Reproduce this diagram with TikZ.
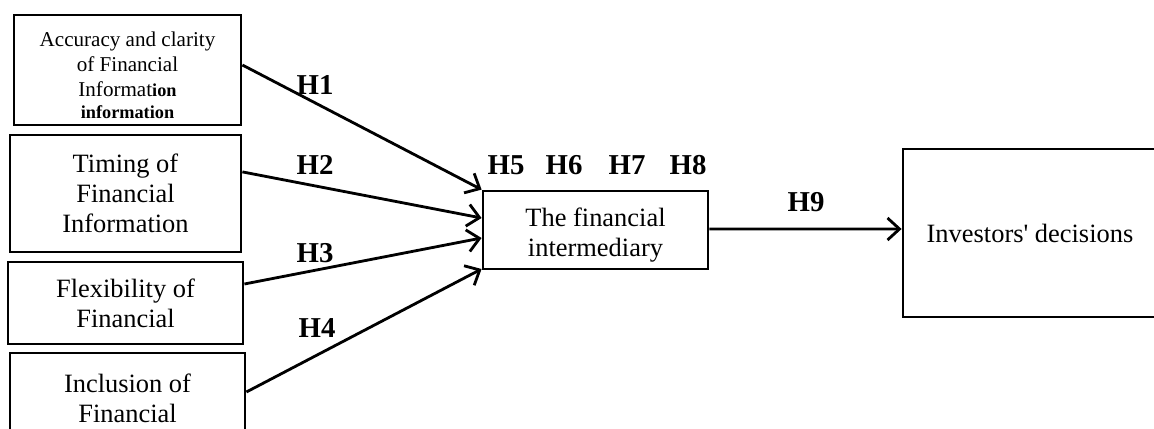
\documentclass[tikz,border=0pt]{standalone}
\usepackage{fontspec}
\setmainfont{Liberation Serif}
\usepackage{tikz}
\usetikzlibrary{arrows.meta,positioning}
\tikzset{
    % Base node style
    basenode/.style={
        draw=black,
        fill=white,
        line width=2pt,
        align=center,
        inner sep=0pt,
        font=\fontsize{18.8}{21.5}\selectfont
    },
    % Input variable boxes
    inputnode/.style={
        basenode,
        minimum width=5.8cm
    },
    % Mediator box
    mediatornode/.style={
        basenode,
        minimum width=5.625cm,
        minimum height=1.95cm
    },
    % Outcome box
    outcomenode/.style={
        basenode,
        minimum width=6.35cm,
        minimum height=4.2cm
    },
    % Text placed inside a box
    boxtext/.style={
        align=center,
        inner sep=0pt,
        font=\fontsize{18.8}{21.5}\selectfont
    },
    % Hypothesis labels
    hlabel/.style={
        font=\fontsize{20.5}{24}\selectfont\bfseries,
        inner sep=0pt
    },
    % Arrow style
    myarrow/.style={
        -{Straight Barb[length=0.3cm,width=0.55cm,line width=2pt]},
        line width=2pt,
        draw=black
    }
}
\begin{document}
\begin{tikzpicture}
                \useasboundingbox (0,0) rectangle (28.85,10.7);

                % Inputs
                \node[inputnode, minimum width=5.675cm, minimum height=2.75cm] (acc) at (3.1875,8.95) {};
                \node[boxtext, font=\fontsize{15}{17.8}\selectfont] (acctext) at ([yshift=-0.13cm]acc.center)
                    {Accuracy and clarity\\of Financial\\Informat{\bfseries\fontsize{13}{15}\selectfont ion}\\[-2pt]{\bfseries\fontsize{13}{15}\selectfont information}};
                \node[inputnode, minimum width=5.775cm, minimum height=2.925cm] (timing) at (3.1375,5.8625)
                    {Timing of\\Financial\\Information};
                \node[inputnode, minimum width=5.875cm, minimum height=2.05cm] (flex) at (3.1375,3.125)
                    {Flexibility of\\Financial};
                \node[inputnode, minimum width=5.875cm, minimum height=2.25cm] (incl) at (3.1875,0.75)
                    {Inclusion of\\Financial};

                % Mediator and outcome
                \node[mediatornode] (mid) at (14.8875,4.95) {};
                \node[boxtext] (midtext) at ([yshift=-0.13cm]mid.center) {The financial\\intermediary};
                \node[outcomenode] (inv) at (25.75,4.875) {Investors\textquotesingle{} decisions};

                % Arrows
                \draw[myarrow] ([yshift=0.125cm]acc.east) -- (mid.north west);
                \draw[myarrow] ([yshift=0.54cm]timing.east) -- ([yshift=0.3cm]mid.west);
                \draw[myarrow] ([yshift=0.475cm]flex.east) -- ([yshift=-0.2cm]mid.west);
                \draw[myarrow] ([yshift=0.15cm]incl.east) -- ([yshift=-0.975cm]mid.west);
                \draw[myarrow] ([yshift=0.025cm]mid.east) -- ([yshift=0.1cm]inv.west);

                % Hypotheses
                \node[hlabel] (h1) at (7.875,8.575) {H1};
                \node[hlabel] (h2) at (7.875,6.575) {H2};
                \node[hlabel] (h3) at (7.875,4.375) {H3};
                \node[hlabel] (h4) at (7.925,2.5) {H4};
                \node[hlabel] (h5) at (12.65,6.575) {H5};
                \node[hlabel] (h6) at (14.1,6.575) {H6};
                \node[hlabel] (h7) at (15.675,6.575) {H7};
                \node[hlabel] (h8) at (17.2,6.575) {H8};
                \node[hlabel] (h9) at (20.15,5.65) {H9};
\end{tikzpicture}
\end{document}
